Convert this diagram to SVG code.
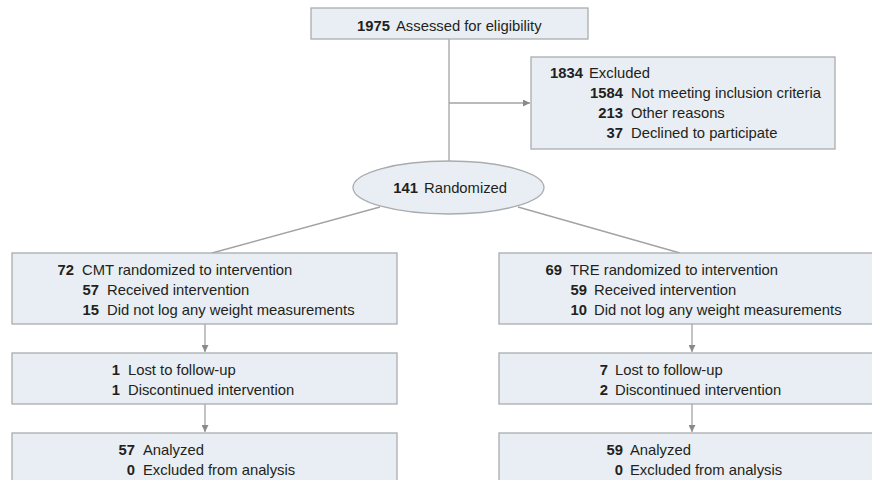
<svg xmlns="http://www.w3.org/2000/svg" width="872" height="480" viewBox="0 0 872 480">
<style>
.box{fill:#e8eef3;stroke:#a9acae;stroke-width:1.3}
.ln{fill:none;stroke:#a3a3a3;stroke-width:1.3}
text{font-family:"Liberation Sans",Arial,sans-serif;font-size:14.8px;fill:#231f20}
.n{font-weight:bold;text-anchor:end}
</style>
<defs>
<marker id="ah" viewBox="0 0 10 10" refX="10" refY="5" markerWidth="7" markerHeight="7" markerUnits="userSpaceOnUse" orient="auto">
<path d="M0,0 L10,5 L0,10 z" fill="#8a8a8a"/>
</marker>
</defs>
<rect width="872" height="480" fill="#ffffff"/>
<g id="connectors">
<line class="ln" x1="449" y1="39" x2="449" y2="161"/>
<line class="ln" x1="449" y1="103" x2="530" y2="103" marker-end="url(#ah)"/>
<line class="ln" x1="380" y1="207" x2="212" y2="253"/>
<line class="ln" x1="518" y1="207" x2="680" y2="253"/>
<line class="ln" x1="205" y1="324" x2="205" y2="352" marker-end="url(#ah)"/>
<line class="ln" x1="205" y1="404" x2="205" y2="432" marker-end="url(#ah)"/>
<line class="ln" x1="692" y1="324" x2="692" y2="352" marker-end="url(#ah)"/>
<line class="ln" x1="692" y1="404" x2="692" y2="432" marker-end="url(#ah)"/>
</g>
<g id="assessed">
<rect class="box" x="311" y="8" width="277" height="31"/>
<text class="n" x="390" y="31">1975</text>
<text x="396" y="31">Assessed for eligibility</text>
</g>
<g id="excluded">
<rect class="box" x="531" y="57" width="304" height="92"/>
<text class="n" x="583" y="78">1834</text>
<text x="589" y="78">Excluded</text>
<text class="n" x="623" y="98">1584</text>
<text x="631" y="98">Not meeting inclusion criteria</text>
<text class="n" x="623" y="118">213</text>
<text x="631" y="118">Other reasons</text>
<text class="n" x="623" y="138">37</text>
<text x="631" y="138">Declined to participate</text>
</g>
<g id="randomized">
<ellipse class="box" cx="448.5" cy="187.5" rx="95.5" ry="26.5"/>
<text class="n" x="418" y="193">141</text>
<text x="424" y="193">Randomized</text>
</g>
<g id="cmt">
<rect class="box" x="12" y="253" width="385" height="71"/>
<text class="n" x="74" y="275">72</text>
<text x="82" y="275">CMT randomized to intervention</text>
<text class="n" x="99" y="295">57</text>
<text x="107" y="295">Received intervention</text>
<text class="n" x="99" y="315">15</text>
<text x="107" y="315">Did not log any weight measurements</text>
</g>
<g id="cmt-followup">
<rect class="box" x="12" y="353" width="385" height="51"/>
<text class="n" x="120" y="375">1</text>
<text x="128" y="375">Lost to follow-up</text>
<text class="n" x="120" y="395">1</text>
<text x="128" y="395">Discontinued intervention</text>
</g>
<g id="cmt-analysis">
<rect class="box" x="12" y="433" width="385" height="60"/>
<text class="n" x="135" y="455">57</text>
<text x="143" y="455">Analyzed</text>
<text class="n" x="135" y="475">0</text>
<text x="143" y="475">Excluded from analysis</text>
</g>
<g id="tre">
<rect class="box" x="499" y="253" width="386" height="71"/>
<text class="n" x="562" y="275">69</text>
<text x="570" y="275">TRE randomized to intervention</text>
<text class="n" x="587" y="295">59</text>
<text x="594" y="295">Received intervention</text>
<text class="n" x="587" y="315">10</text>
<text x="594" y="315">Did not log any weight measurements</text>
</g>
<g id="tre-followup">
<rect class="box" x="499" y="353" width="386" height="51"/>
<text class="n" x="608" y="375">7</text>
<text x="615" y="375">Lost to follow-up</text>
<text class="n" x="608" y="395">2</text>
<text x="615" y="395">Discontinued intervention</text>
</g>
<g id="tre-analysis">
<rect class="box" x="499" y="433" width="386" height="60"/>
<text class="n" x="623" y="455">59</text>
<text x="630" y="455">Analyzed</text>
<text class="n" x="623" y="475">0</text>
<text x="630" y="475">Excluded from analysis</text>
</g>
</svg>
